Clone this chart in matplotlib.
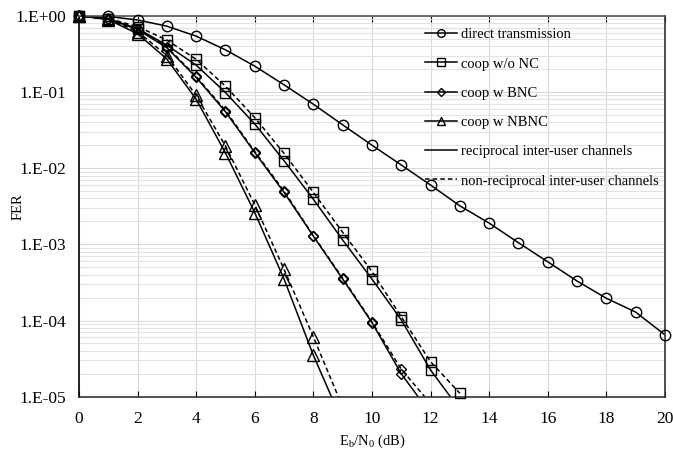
import numpy as np
import matplotlib
matplotlib.use("Agg")
import matplotlib.pyplot as plt
from matplotlib.lines import Line2D
from matplotlib.ticker import LogLocator, NullFormatter, FixedLocator

plt.rcParams["font.family"] = ["Liberation Serif", "DejaVu Serif"]
plt.rcParams["mathtext.fontset"] = "custom"
plt.rcParams["mathtext.rm"] = "Liberation Serif"
plt.rcParams["mathtext.it"] = "Liberation Serif"

# ── Data ───────────────────────────────────────────────────────────────────────
snr_direct = np.arange(0, 21)
fer_direct = [1.0, 0.98, 0.88, 0.73, 0.54, 0.357, 0.218, 0.124, 0.069, 0.037,
              0.020, 0.011, 0.006, 0.0032, 0.0019, 0.00105, 0.00059, 0.00033,
              0.000196, 0.000129, 0.000065]

snr_nonc = np.arange(0, 14)
fer_nonc_rec = [1.0, 0.91, 0.68, 0.41, 0.225, 0.098, 0.038, 0.0125, 0.0039,
                0.00114, 0.00035, 0.000102, 0.0000224, 0.0000068]
fer_nonc_nonrec = [1.0, 0.92, 0.72, 0.48, 0.268, 0.119, 0.046, 0.0156, 0.0048,
                   0.00144, 0.00044, 0.000112, 0.0000288, 0.0000111]

snr_bnc = np.arange(0, 13)
fer_bnc_rec = [1.0, 0.91, 0.66, 0.38, 0.155, 0.055, 0.016, 0.0048, 0.00128,
               0.00035, 0.000094, 0.000020, 0.0000060]
fer_bnc_nonrec = [1.0, 0.91, 0.67, 0.39, 0.16, 0.057, 0.0165, 0.0050, 0.0013,
                  0.00036, 0.000096, 0.000023, 0.0000081]

snr_nbnc = np.arange(0, 10)
fer_nbnc_rec = [1.0, 0.89, 0.58, 0.27, 0.08, 0.0158, 0.0026, 0.00035,
                0.000035, 0.0000046]
fer_nbnc_nonrec = [1.0, 0.90, 0.62, 0.30, 0.09, 0.0195, 0.0033, 0.00047,
                   0.000061, 0.0000073]

labels = ["direct transmission", "coop w/o NC", "coop w BNC", "coop w NBNC",
          "reciprocal inter-user channels", "non-reciprocal inter-user channels"]

YMIN, YMAX = 1e-5, 1.0

# ── Plot ───────────────────────────────────────────────────────────────────────
fig = plt.figure(figsize=(6.73, 4.5), dpi=100)
ax = fig.add_axes([0.1174, 0.1184, 0.8706, 0.8466])

LW = 1.1
mk = dict(markerfacecolor="none", markeredgecolor="black", markeredgewidth=1.0)
dash = (0, (3, 2))


def curve(x, y, ls, marker, ms):
    x = np.asarray(x)
    y = np.asarray(y)
    # line is clipped at the frame, markers on the frame are drawn whole
    ax.plot(x, y, color="black", lw=LW, ls=ls)
    keep = y >= YMIN * 0.999
    ax.plot(x[keep], y[keep], ls="none", marker=marker, ms=ms, clip_on=False,
            zorder=3, **mk)


curve(snr_nonc, fer_nonc_nonrec, dash, "s", 7.5)
curve(snr_bnc, fer_bnc_nonrec, dash, "D", 5.5)
curve(snr_nbnc, fer_nbnc_nonrec, dash, "^", 8)

curve(snr_direct, fer_direct, "-", "o", 7.5)
curve(snr_nonc, fer_nonc_rec, "-", "s", 7.5)
curve(snr_bnc, fer_bnc_rec, "-", "D", 5.5)
curve(snr_nbnc, fer_nbnc_rec, "-", "^", 8)

ax.set_yscale("log")
ax.set_xlim(0, 20)
ax.set_ylim(YMIN, YMAX)
ax.set_xticks(np.arange(0, 21, 2))
ax.yaxis.set_major_locator(FixedLocator([1e-5, 1e-4, 1e-3, 1e-2, 1e-1, 1]))
ax.set_yticklabels(["1.E-05", "1.E-04", "1.E-03", "1.E-02", "1.E-01", "1.E+00"])
ax.yaxis.set_minor_locator(LogLocator(base=10, subs=np.arange(2, 10)))
ax.yaxis.set_minor_formatter(NullFormatter())

ax.grid(True, which="major", axis="both", color="#d9d9d9", lw=0.8)
ax.grid(True, which="minor", axis="y", color="#e3e3e3", lw=0.8)
ax.set_axisbelow(True)

ax.tick_params(axis="both", which="major", labelsize=12.5, length=0)
ax.tick_params(axis="y", which="major", pad=9)
ax.tick_params(axis="y", which="minor", length=0)
ax.tick_params(axis="x", which="major", top=True, direction="in", length=4, pad=10)

for s in ax.spines.values():
    s.set_linewidth(1.2)
ax.spines["left"].set_color("black")
ax.spines["bottom"].set_color("#333333")
ax.spines["top"].set_color("#555555")
ax.spines["right"].set_color("#333333")

ax.set_xlabel(r"E$_\mathregular{b}$/N$_\mathregular{0}$ (dB)", fontsize=10.5)
ax.set_ylabel("FER", fontsize=10.5)
ax.xaxis.set_label_coords(0.5, -0.095)
ax.yaxis.set_label_coords(-0.092, 0.5)

handles = [
    Line2D([], [], color="black", lw=LW, marker="o", ms=5.5, **mk),
    Line2D([], [], color="black", lw=LW, marker="s", ms=5.5, **mk),
    Line2D([], [], color="black", lw=LW, marker="D", ms=4, **mk),
    Line2D([], [], color="black", lw=LW, marker="^", ms=5.5, **mk),
    Line2D([], [], color="black", lw=LW),
    Line2D([], [], color="black", lw=LW, ls=dash),
]
leg = ax.legend(handles, labels, loc="upper right", frameon=False, fontsize=10.5,
                labelspacing=1.1, handlelength=2.2, handletextpad=0.25,
                bbox_to_anchor=(1.01, 1.0), borderaxespad=0.45)

fig.savefig("out.png", dpi=100)
